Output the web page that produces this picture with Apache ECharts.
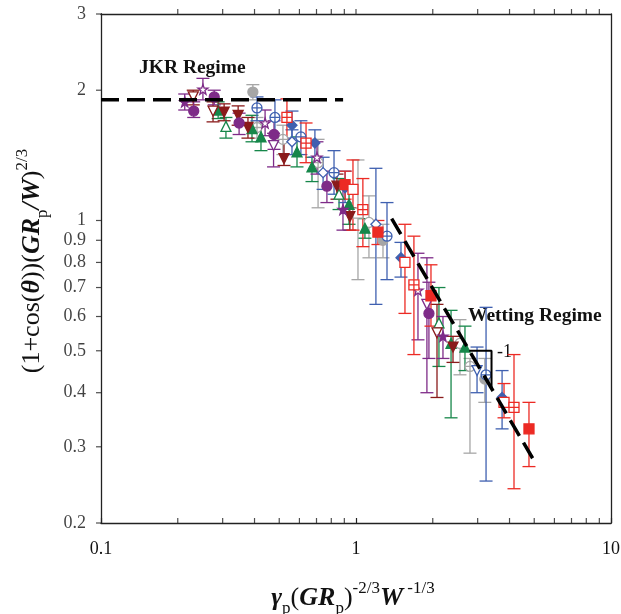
<!DOCTYPE html>
<html><head><meta charset="utf-8">
<script src="https://cdn.jsdelivr.net/npm/echarts@6/dist/echarts.min.js"></script>
<style>html,body{margin:0;padding:0;background:#fff}#c{width:621px;height:614px}</style>
</head><body><div id="c"></div>
<script>
// each point: [x, y, yLow, yHigh]
const redFilledSquare = [[0.906,1.21,1.12,1.30],[1.219,0.94,0.88,1.00],[1.968,0.67,0.57,0.79],[4.768,0.33,0.27,0.38]];
const redOpenSquare = [[0.973,1.18,0.95,1.38],[1.556,0.80,0.61,0.98],[3.806,0.38,0.35,0.42]];
const redCrossSquare = [[0.536,1.73,1.54,1.91],[0.637,1.51,1.36,1.68],[1.064,1.06,0.87,1.25],[1.687,0.71,0.49,0.92],[4.165,0.37,0.24,0.49]];
const blueFilledDiamond = [[0.561,1.66,1.55,1.79],[0.690,1.51,1.40,1.62],[0.906,1.19,1.10,1.30],[1.501,0.82,0.74,0.89],[3.740,0.39,0.33,0.45]];
const blueOpenDiamond = [[0.561,1.52,1.42,1.62],[0.743,1.29,1.18,1.40],[1.197,0.98,0.64,1.32]];
const blueCrossCircle = [[0.409,1.82,1.70,1.93],[0.481,1.73,1.52,1.90],[0.608,1.56,1.42,1.70],[0.820,1.29,1.15,1.45],[1.323,0.92,0.73,1.10],[3.236,0.44,0.25,0.63]];
const blueOpenInvTri = [[2.983,0.45,0.40,0.51]];
const greenFilledTri = [[0.288,1.80,1.72,1.88],[0.391,1.63,1.52,1.75],[0.424,1.56,1.45,1.66],[0.587,1.44,1.33,1.56],[0.672,1.33,1.23,1.40],[0.939,1.09,0.98,1.18],[1.084,0.96,0.91,1.01],[2.359,0.52,0.35,0.62],[2.675,0.51,0.45,0.57]];
const greenOpenTri = [[0.309,1.65,1.55,1.73],[0.858,1.15,1.06,1.25],[2.115,0.58,0.46,0.70]];
const grayFilledCircle = [[0.394,1.98,1.90,2.06],[1.276,0.90,0.82,0.98],[3.2,0.43,0.38,0.48]];
const grayCrossCircle = [[0.409,1.64,1.55,1.73],[0.517,1.54,1.42,1.66],[0.710,1.36,1.07,1.54],[2.799,0.46,0.29,0.48]];
const grayOpenCircle = [[1.124,0.99,0.82,1.14],[2.557,0.52,0.44,0.59]];
const grayOpenSquare = [[1.018,1.04,0.73,1.38]];
const purpleFilledCircle = [[0.231,1.79,1.73,1.88],[0.278,1.93,1.85,2.00],[0.348,1.68,1.58,1.77],[0.477,1.58,1.46,1.70],[0.769,1.20,1.10,1.30],[1.932,0.61,0.48,0.72]];
const purpleOpenStar = [[0.251,2.01,1.90,2.13],[0.440,1.68,1.57,1.80],[0.703,1.40,1.28,1.52],[1.750,0.69,0.53,0.84]];
const purpleFilledStar = [[0.213,1.88,1.80,1.96],[0.889,1.06,0.95,1.18],[2.193,0.54,0.48,0.60]];
const purpleOpenInvTri = [[0.475,1.49,1.33,1.59],[1.897,0.64,0.40,0.82]];
const brownFilledInvTri = [[0.304,1.78,1.70,1.86],[0.345,1.75,1.66,1.84],[0.377,1.64,1.55,1.73],[0.522,1.39,1.34,1.52],[0.842,1.20,1.12,1.28],[0.946,1.02,0.95,1.07],[2.401,0.51,0.47,0.54]];
const brownOpenInvTri = [[0.230,1.93,1.85,2.00],[0.275,1.79,1.69,1.88],[2.078,0.55,0.39,0.64]];

const jkrLine = [[0.1,1.9],[0.89,1.9]];
const wettingLine = [[1.38,1.01],[4.95,0.281]];
const slopeTriangle = [[2.78,0.5],[3.4,0.5],[3.4,0.409]];

const xMinorTicks = [0.2,0.3,0.4,0.5,0.6,0.7,0.8,0.9,2,3,4,5,6,7,8,9];
const xTopTicks = [0.2,0.3,0.4,0.5,0.6,0.7,0.8,0.9,1,2,3,4,5,6,7,8,9];
const yTickLabels = [0.2,0.3,0.4,0.5,0.6,0.7,0.8,0.9,1,2,3];

const RED='#ec2a24', BLUE='#3f60b0', GREEN='#16874a', GRAY='#a6a6a6', PURPLE='#7e2b88', BROWN='#8a1b1b';
const SQ_CROSS='path://M0,0H10V10H0Z M5,0V10 M0,5H10';
const CI_CROSS='path://M0,5A5,5,0,1,1,10,5A5,5,0,1,1,0,5Z M5,0V10 M0,5H10';
const STAR='path://M5,0L6.18,3.45L9.76,3.45L6.9,5.6L7.94,9.05L5,7L2.06,9.05L3.1,5.6L0.24,3.45L3.82,3.45Z';

const groups = [
  {d:grayOpenSquare,c:GRAY,s:'rect',f:false},
  {d:grayFilledCircle,c:GRAY,s:'circle',f:true},
  {d:grayCrossCircle,c:GRAY,s:CI_CROSS,f:false},
  {d:grayOpenCircle,c:GRAY,s:'circle',f:false},
  {d:greenFilledTri,c:GREEN,s:'triangle',f:true},
  {d:greenOpenTri,c:GREEN,s:'triangle',f:false},
  {d:brownFilledInvTri,c:BROWN,s:'triangle',f:true,r:180},
  {d:brownOpenInvTri,c:BROWN,s:'triangle',f:false,r:180},
  {d:purpleFilledCircle,c:PURPLE,s:'circle',f:true},
  {d:purpleOpenStar,c:PURPLE,s:STAR,f:false},
  {d:purpleFilledStar,c:PURPLE,s:STAR,f:true},
  {d:purpleOpenInvTri,c:PURPLE,s:'triangle',f:false,r:180},
  {d:blueFilledDiamond,c:BLUE,s:'diamond',f:true},
  {d:blueOpenDiamond,c:BLUE,s:'diamond',f:false},
  {d:blueCrossCircle,c:BLUE,s:CI_CROSS,f:false},
  {d:blueOpenInvTri,c:BLUE,s:'triangle',f:false,r:180},
  {d:redFilledSquare,c:RED,s:'rect',f:true},
  {d:redOpenSquare,c:RED,s:'rect',f:false},
  {d:redCrossSquare,c:RED,s:SQ_CROSS,f:false}
];

function errRender(color){
  return function(params, api){
    const x = api.value(0);
    const lo = api.coord([x, api.value(1)]);
    const hi = api.coord([x, api.value(2)]);
    const h = 6.5, st = {stroke:color, lineWidth:1.3};
    return {type:'group', children:[
      {type:'line', shape:{x1:hi[0],y1:hi[1],x2:lo[0],y2:lo[1]}, style:st},
      {type:'line', shape:{x1:hi[0]-h,y1:hi[1],x2:hi[0]+h,y2:hi[1]}, style:st},
      {type:'line', shape:{x1:lo[0]-h,y1:lo[1],x2:lo[0]+h,y2:lo[1]}, style:st}
    ]};
  };
}

const series = [];
groups.forEach(g => {
  series.push({type:'custom', z:2, clip:false, encode:{x:0,y:[1,2]},
    data:g.d.map(p=>[p[0],p[2],p[3]]), renderItem:errRender(g.c)});
});
groups.forEach(g => {
  series.push({type:'scatter', z:4, clip:false, data:g.d.map(p=>[p[0],p[1]]),
    symbol:g.s, symbolSize:10, symbolRotate:g.r||0,
    itemStyle:{color:g.f?g.c:'#ffffff', borderColor:g.c, borderWidth:1.3, opacity:1}});
});
series.push({type:'line', z:6, data:jkrLine, symbol:'none', lineStyle:{color:'#000', width:3.5, type:[18,8]}});
series.push({type:'line', z:6, data:wettingLine, symbol:'none', lineStyle:{color:'#000', width:3.5, type:[18,8]}});
series.push({type:'line', z:6, data:slopeTriangle, symbol:'none', lineStyle:{color:'#000', width:2}});
// axis minor ticks
series.push({type:'scatter', z:7, clip:false, silent:true, data:xMinorTicks.map(v=>[v,0.2]),
  symbol:'rect', symbolSize:[1.2,5], symbolOffset:[0,-2.5], itemStyle:{color:'#222'}});
series.push({type:'scatter', z:7, clip:false, silent:true, data:xTopTicks.map(v=>[v,3]),
  symbol:'rect', symbolSize:[1.2,5], symbolOffset:[0,-2.5], itemStyle:{color:'#222'}});
series.push({type:'scatter', z:7, clip:false, silent:true, data:yTickLabels.map(v=>[0.1,v]),
  symbol:'rect', symbolSize:[6,1.2], symbolOffset:[-2,0], itemStyle:{color:'#222'},
  label:{show:true, position:'left', distance:10, formatter:p=>String(p.value[1]),
    fontFamily:'Liberation Serif', fontSize:18, color:'#111'}});

const chart = echarts.init(document.getElementById('c'));
chart.setOption({
  animation:false,
  backgroundColor:'#fff',
  grid:{left:101, right:10, top:14, bottom:91, containLabel:false, outerBoundsMode:'none'},
  xAxis:[
    {type:'log', logBase:10, min:0.1, max:10, position:'bottom',
      axisLine:{lineStyle:{color:'#222', width:1.3}},
      axisTick:{show:true, inside:true, length:5, lineStyle:{color:'#222', width:1.2}},
      axisLabel:{fontFamily:'Liberation Serif', fontSize:18, color:'#111', margin:17},
      splitLine:{show:false}, minorTick:{show:false}},
    {type:'log', logBase:10, min:0.1, max:10, position:'top',
      axisLine:{lineStyle:{color:'#222', width:1.3}},
      axisTick:{show:false}, axisLabel:{show:false}, splitLine:{show:false}}
  ],
  yAxis:[
    {type:'log', logBase:10, min:0.2, max:3, position:'left',
      axisLine:{lineStyle:{color:'#222', width:1.3}},
      axisTick:{show:false}, axisLabel:{show:false}, splitLine:{show:false}},
    {type:'log', logBase:10, min:0.2, max:3, position:'right',
      axisLine:{lineStyle:{color:'#222', width:1.3}},
      axisTick:{show:false}, axisLabel:{show:false}, splitLine:{show:false}}
  ],
  graphic:[
    {type:'text', x:139, y:68, style:{text:'JKR Regime', font:'bold 19.5px "Liberation Serif"', fill:'#111', verticalAlign:'middle'}},
    {type:'text', x:468, y:316, style:{text:'Wetting Regime', font:'bold 19.5px "Liberation Serif"', fill:'#111', verticalAlign:'middle'}},
    {type:'text', x:497, y:352, style:{text:'-1', font:'18px "Liberation Serif"', fill:'#111', verticalAlign:'middle'}},
    {type:'text', x:353, y:599, style:{
      text:'{gi|γ}{sub|p}{n|(}{bi|GR}{sub|p}{n|)}{sup|-2/3}{bi|W}{sup| -1/3}',
      align:'center', verticalAlign:'middle',
      rich:{
        gi:{font:'bold italic 26px "Liberation Serif"', fill:'#111', verticalAlign:'bottom', padding:[0,0,6,0]},
        bi:{font:'bold italic 26px "Liberation Serif"', fill:'#111', verticalAlign:'bottom', padding:[0,0,6,0]},
        n:{font:'26px "Liberation Serif"', fill:'#111', verticalAlign:'bottom', padding:[0,0,6,0]},
        sub:{font:'17px "Liberation Serif"', fill:'#111', verticalAlign:'bottom', padding:[0,0,0,0]},
        sup:{font:'17px "Liberation Serif"', fill:'#111', verticalAlign:'bottom', padding:[0,0,20,0]}
      }}},
    {type:'text', x:33, y:261, rotation:Math.PI/2, style:{
      text:'{n|(1+cos(}{bi|θ}{n|))(}{bi|GR}{sub|p}{bi|/W}{n|)}{sup|2/3}',
      align:'center', verticalAlign:'middle',
      rich:{
        bi:{font:'bold italic 26px "Liberation Serif"', fill:'#111', verticalAlign:'bottom', padding:[0,0,6,0]},
        n:{font:'26px "Liberation Serif"', fill:'#111', verticalAlign:'bottom', padding:[0,0,6,0]},
        sub:{font:'17px "Liberation Serif"', fill:'#111', verticalAlign:'bottom', padding:[0,0,0,0]},
        sup:{font:'17px "Liberation Serif"', fill:'#111', verticalAlign:'bottom', padding:[0,0,20,0]}
      }}}
  ],
  series:series
});
</script></body></html>
